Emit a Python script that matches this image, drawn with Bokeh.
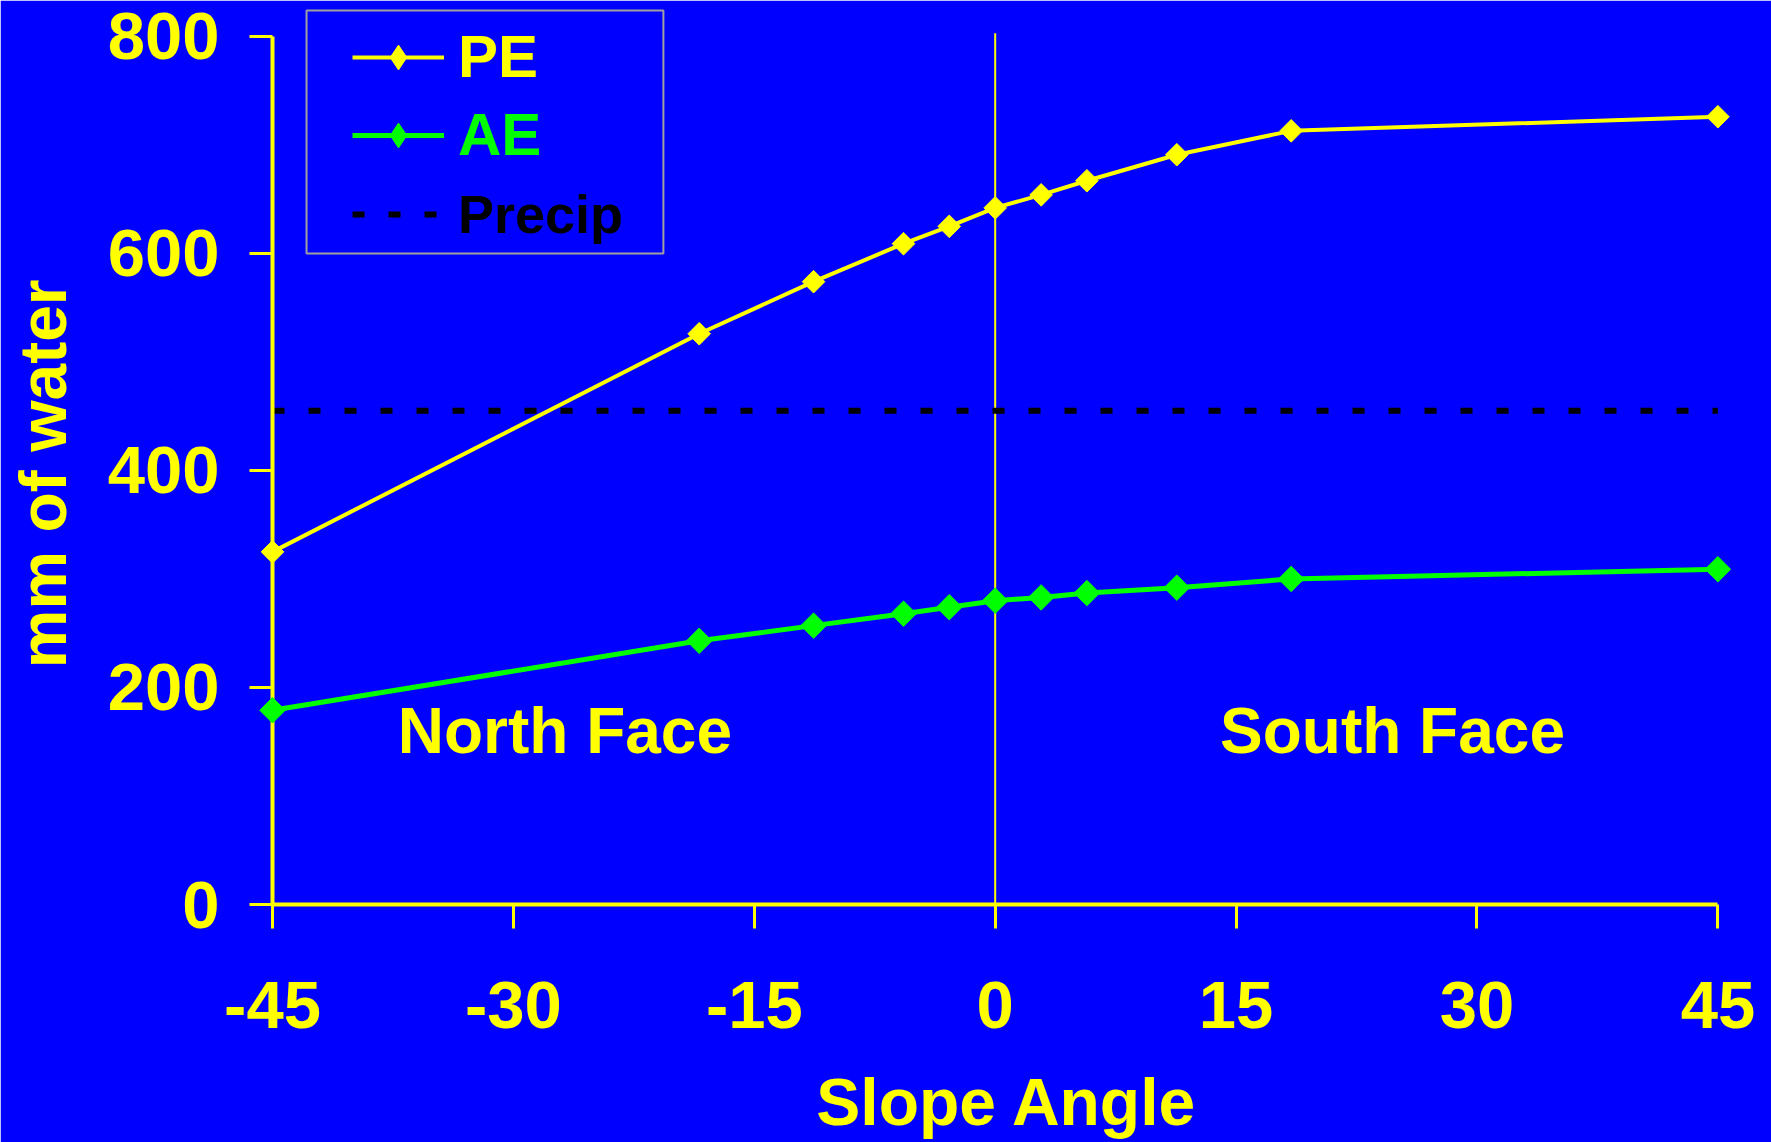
from bokeh.plotting import figure
from bokeh.models import (Range1d, FixedTicker, Legend, LegendItem, BoxAnnotation, Label)
from bokeh.embed import file_html
from bokeh.resources import INLINE
import numpy as np

# ---------------- data ----------------
slope_angle = [-45, -18.43, -11.31, -5.71, -2.86, 0, 2.86, 5.71, 11.31, 18.43, 45]
pe_mm = [325, 526, 574, 609, 625, 642, 654, 667, 691, 713, 726]
ae_mm = [179, 243, 257, 268, 274, 280, 283, 287, 292, 300, 309]
precip_x = [-45, 45]
precip_mm = [455, 455]
x_ticks = [-45, -30, -15, 0, 15, 30, 45]
y_ticks = [0, 200, 400, 600, 800]
zero_line_x = [0, 0]
zero_line_y = [0, 803]

BLUE = "#0000FF"
YELLOW = "#FFFF00"
GREEN = "#00FF00"
FONT = "Liberation Sans"
NBSP = "\u00a0"

p = figure(width=1771, height=1142, output_backend="svg", toolbar_location=None,
           x_range=Range1d(-45, 46.47), y_range=Range1d(0, 827.6),
           min_border_left=272, min_border_right=30, min_border_top=6,
           min_border_bottom=238, x_axis_label="Slope Angle",
           y_axis_label="mm of water" + NBSP * 2)

p.background_fill_color = BLUE
p.border_fill_color = BLUE
p.outline_line_color = BLUE
p.outline_line_width = 2
p.grid.visible = False

for ax in (p.xaxis[0], p.yaxis[0]):
    ax.axis_line_color = YELLOW
    ax.axis_line_width = 4
    ax.major_tick_line_color = YELLOW
    ax.major_tick_line_width = 3
    ax.major_tick_in = 0
    ax.minor_tick_line_color = None
    ax.major_label_text_color = YELLOW
    ax.major_label_text_font = FONT
    ax.major_label_text_font_style = "bold"
    ax.major_label_text_font_size = "67px"
    ax.axis_label_text_color = YELLOW
    ax.axis_label_text_font = FONT
    ax.axis_label_text_font_style = "bold"
    ax.axis_label_text_font_size = "66px"

p.xaxis.ticker = FixedTicker(ticks=x_ticks)
p.yaxis.ticker = FixedTicker(ticks=y_ticks)
p.xaxis.major_label_overrides = {t: str(t) for t in x_ticks}
p.yaxis.major_label_overrides = {t: str(t) for t in y_ticks}
p.xaxis.bounds = (-45, 45)
p.yaxis.bounds = (0, 800)
p.xaxis.major_tick_out = 24
p.yaxis.major_tick_out = 23
p.xaxis.major_label_standoff = 53
p.yaxis.major_label_standoff = 30
p.xaxis.axis_label_standoff = 34
p.yaxis.axis_label_standoff = 25

# zero reference line
p.line(zero_line_x, zero_line_y, line_color=YELLOW, line_width=2)

# precipitation
precip_r = p.line(precip_x, precip_mm, line_color="black", line_width=6, line_dash="12 24")

# PE
pe_line = p.line(slope_angle, pe_mm, line_color=YELLOW, line_width=4)
pe_key = p.scatter(slope_angle, pe_mm, marker="diamond", size=12,
                   fill_color=YELLOW, line_color=YELLOW)
p.scatter(slope_angle, pe_mm, marker="square", angle=np.pi / 4, size=16,
          fill_color=YELLOW, line_color=YELLOW, level="overlay")
# AE
ae_line = p.line(slope_angle, ae_mm, line_color=GREEN, line_width=5)
ae_key = p.scatter(slope_angle, ae_mm, marker="diamond", size=12,
                   fill_color=GREEN, line_color=GREEN)
p.scatter(slope_angle, ae_mm, marker="square", angle=np.pi / 4, size=18,
          fill_color=GREEN, line_color=GREEN, level="overlay")


def make_legend(label, renderers, color, size, loc):
    leg = Legend(items=[LegendItem(label=label, renderers=renderers)], location=loc)
    leg.border_line_color = None
    leg.background_fill_alpha = 0
    leg.padding = 0
    leg.margin = 0
    leg.spacing = 0
    leg.glyph_width = 92
    leg.glyph_height = 62
    leg.label_height = 62
    leg.label_standoff = 14
    leg.label_text_font = FONT
    leg.label_text_font_style = "bold"
    leg.label_text_font_size = size
    leg.label_text_color = color
    return leg


p.add_layout(make_legend("PE", [pe_line, pe_key], YELLOW, "60px", (80, 813)))
p.add_layout(make_legend("AE", [ae_line, ae_key], GREEN, "60px", (80, 735)))
p.add_layout(make_legend("Precip", [precip_r], "black", "54px", (80, 659)))

p.add_layout(BoxAnnotation(left=-42.88, right=-20.66, bottom=600, top=824,
                           fill_alpha=0, line_color="#A0A0A0", line_alpha=1,
                           line_width=2))

for txt, xpos in (("North Face", -37.2), ("South Face", 14.0)):
    p.add_layout(Label(x=xpos, y=160, text=txt, text_color=YELLOW, text_font=FONT,
                       text_font_style="bold", text_font_size="64px",
                       text_baseline="alphabetic", text_align="left"))

open("out.html", "w").write(file_html(p, INLINE))
